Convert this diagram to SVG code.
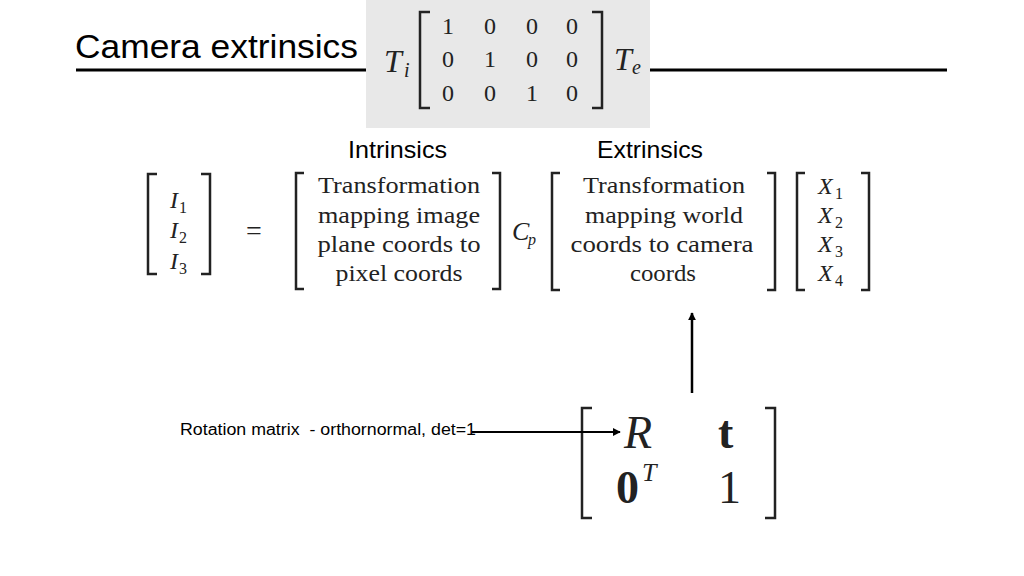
<svg xmlns="http://www.w3.org/2000/svg" width="1024" height="576" viewBox="0 0 1024 576">
<style>
.sans{font-family:"Liberation Sans",Arial,sans-serif;fill:#000}
.serif{font-family:"Liberation Serif","Times New Roman",serif;fill:#222}
.it{font-style:italic}
.br{fill:none;stroke:#222;stroke-width:2.5}
.mtx{font-size:24px;text-anchor:middle}
</style>
<defs>
<marker id="ah" viewBox="0 0 10 10" refX="9" refY="5" markerWidth="8" markerHeight="8" markerUnits="userSpaceOnUse" orient="auto">
<path d="M0,0 L10,5 L0,10 z" fill="#000"/>
</marker>
</defs>
<rect width="1024" height="576" fill="#fff"/>

<g id="title">
<text class="sans" x="75" y="58" font-size="34" textLength="283" lengthAdjust="spacingAndGlyphs">Camera extrinsics</text>
<line x1="76" y1="70" x2="366" y2="70" stroke="#000" stroke-width="3"/>
<line x1="650" y1="70" x2="947" y2="70" stroke="#000" stroke-width="3"/>
</g>

<g id="projection-matrix">
<rect x="366" y="0" width="284" height="128" fill="#e8e8e8"/>
<text class="serif it" x="384" y="72" font-size="32">T</text>
<text class="serif it" x="404" y="77" font-size="20">i</text>
<path class="br" d="M430,12 L420,12 L420,108 L430,108"/>
<path class="br" d="M592,12 L602,12 L602,108 L592,108"/>
<g class="serif mtx" font-size="28">
<text x="448" y="34">1</text><text x="490" y="34">0</text><text x="532" y="34">0</text><text x="572" y="34">0</text>
<text x="448" y="67">0</text><text x="490" y="67">1</text><text x="532" y="67">0</text><text x="572" y="67">0</text>
<text x="448" y="101">0</text><text x="490" y="101">0</text><text x="532" y="101">1</text><text x="572" y="101">0</text>
</g>
<text class="serif it" x="614" y="70" font-size="32">T</text>
<text class="serif it" x="632" y="74" font-size="20">e</text>
</g>

<g id="label-intrinsics"><text class="sans" x="348" y="158" font-size="24" textLength="99" lengthAdjust="spacingAndGlyphs">Intrinsics</text></g>
<g id="label-extrinsics"><text class="sans" x="597" y="158" font-size="24" textLength="106" lengthAdjust="spacingAndGlyphs">Extrinsics</text></g>

<g id="image-vector">
<path class="br" d="M157,174 L148,174 L148,274 L157,274"/>
<path class="br" d="M201,174 L210,174 L210,274 L201,274"/>
<text class="serif it" x="170" y="208" font-size="24">I</text><text class="serif" x="179" y="213" font-size="16">1</text>
<text class="serif it" x="170" y="238" font-size="24">I</text><text class="serif" x="179" y="243" font-size="16">2</text>
<text class="serif it" x="170" y="269" font-size="24">I</text><text class="serif" x="179" y="274" font-size="16">3</text>
</g>

<g id="equals"><text class="serif" x="254" y="240" font-size="28" text-anchor="middle">=</text></g>

<g id="intrinsic-matrix">
<path class="br" d="M304,173 L296,173 L296,289 L304,289"/>
<path class="br" d="M492,173 L500,173 L500,289 L492,289"/>
<g class="serif mtx">
<text x="399" y="193" textLength="162" lengthAdjust="spacingAndGlyphs">Transformation</text>
<text x="399" y="223" textLength="162" lengthAdjust="spacingAndGlyphs">mapping image</text>
<text x="399" y="252" textLength="163" lengthAdjust="spacingAndGlyphs">plane coords to</text>
<text x="399" y="281" textLength="127" lengthAdjust="spacingAndGlyphs">pixel coords</text>
</g>
</g>

<g id="cp"><text class="serif it" x="512" y="240" font-size="26">C</text><text class="serif it" x="528" y="245" font-size="16">p</text></g>

<g id="extrinsic-matrix">
<path class="br" d="M560,173 L552,173 L552,290 L560,290"/>
<path class="br" d="M767,173 L775,173 L775,290 L767,290"/>
<g class="serif mtx">
<text x="664" y="193" textLength="162" lengthAdjust="spacingAndGlyphs">Transformation</text>
<text x="664" y="223" textLength="158" lengthAdjust="spacingAndGlyphs">mapping world</text>
<text x="662" y="252" textLength="183" lengthAdjust="spacingAndGlyphs">coords to camera</text>
<text x="663" y="281" textLength="66" lengthAdjust="spacingAndGlyphs">coords</text>
</g>
</g>

<g id="world-vector">
<path class="br" d="M805,173 L797,173 L797,290 L805,290"/>
<path class="br" d="M861,173 L869,173 L869,290 L861,290"/>
<g class="serif it" font-size="24">
<text x="818" y="194">X</text><text x="818" y="223">X</text><text x="818" y="252">X</text><text x="818" y="281">X</text>
</g>
<g class="serif" font-size="16">
<text x="835" y="199">1</text><text x="835" y="228">2</text><text x="835" y="257">3</text><text x="835" y="286">4</text>
</g>
</g>

<g id="rt-matrix">
<path class="br" d="M592,408 L582,408 L582,518 L592,518"/>
<path class="br" d="M765,408 L775,408 L775,518 L765,518"/>
<text class="serif it" x="624" y="448" font-size="46">R</text>
<text class="serif" x="718" y="448" font-size="46" font-weight="bold">t</text>
<text class="serif" x="616" y="503" font-size="46" font-weight="bold">0</text>
<text class="serif it" x="642" y="481" font-size="26">T</text>
<text class="serif" x="718" y="503" font-size="46">1</text>
</g>

<g id="label-rotation"><text class="sans" x="180" y="435" font-size="16" xml:space="preserve" style="white-space:pre" textLength="296" lengthAdjust="spacingAndGlyphs">Rotation matrix  - orthornormal, det=1</text></g>

<g id="connectors" stroke="#000" stroke-width="2" fill="none">
<line x1="472" y1="432" x2="620" y2="432" marker-end="url(#ah)"/>
<line x1="692" y1="393" x2="692" y2="313" stroke-width="2.5" marker-end="url(#ah)"/>
</g>
</svg>
